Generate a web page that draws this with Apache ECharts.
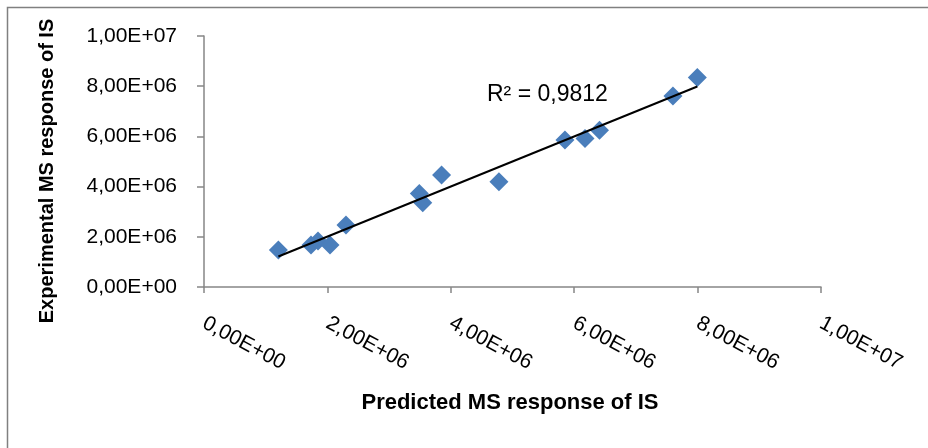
<!DOCTYPE html>
<html>
<head>
<meta charset="utf-8">
<script src="https://cdn.jsdelivr.net/npm/echarts@6/dist/echarts.min.js"></script>
<style>
  html, body { margin: 0; padding: 0; background: #fff; }
  #chart { width: 928px; height: 448px; }
</style>
</head>
<body>
<div id="chart"></div>
<script>
// Predicted vs. experimental MS response of the internal standard
var predicted = [1.205e6, 1.734e6, 1.848e6, 2.042e6, 2.301e6, 3.49e6, 3.545e6,
                 3.85e6, 4.78e6, 5.85e6, 6.175e6, 6.41e6, 7.6e6, 7.995e6];
var experimental = [1.47e6, 1.67e6, 1.83e6, 1.67e6, 2.47e6, 3.73e6, 3.36e6,
                    4.46e6, 4.195e6, 5.86e6, 5.92e6, 6.25e6, 7.61e6, 8.35e6];
var tickLabels = ['0,00E+00', '2,00E+06', '4,00E+06', '6,00E+06', '8,00E+06', '1,00E+07'];
var r2Text = 'R² = 0,9812';

var FONT = '"Liberation Sans", Arial, sans-serif';

// least-squares linear fit for the trend line
function linearFit(xs, ys) {
  var n = xs.length, sx = 0, sy = 0, sxx = 0, sxy = 0;
  for (var i = 0; i < n; i++) {
    sx += xs[i]; sy += ys[i]; sxx += xs[i] * xs[i]; sxy += xs[i] * ys[i];
  }
  var slope = (n * sxy - sx * sy) / (n * sxx - sx * sx);
  return { slope: slope, intercept: (sy - slope * sx) / n };
}
var fit = linearFit(predicted, experimental);
var xMin = Math.min.apply(null, predicted), xMax = Math.max.apply(null, predicted);
var trend = [[xMin, fit.intercept + fit.slope * xMin], [xMax, fit.intercept + fit.slope * xMax]];

var points = predicted.map(function (x, i) { return [x, experimental[i]]; });

function fmt(v) { return tickLabels[Math.round(v / 2e6)]; }

var chart = echarts.init(document.getElementById('chart'), null, { renderer: 'canvas' });
chart.setOption({
  animation: false,
  backgroundColor: '#fff',
  grid: { left: 204, right: 107, top: 36, bottom: 161, containLabel: false },
  xAxis: {
    type: 'value', min: 0, max: 1e7, interval: 2e6,
    splitLine: { show: false },
    axisLine: { lineStyle: { color: '#868686', width: 1.5 } },
    axisTick: { show: true, length: 6, lineStyle: { color: '#868686', width: 1.5 } },
    axisLabel: { rotate: -28, margin: 35, color: '#000', fontFamily: FONT, fontSize: 21, formatter: fmt }
  },
  yAxis: {
    type: 'value', min: 0, max: 1e7, interval: 2e6,
    splitLine: { show: false },
    axisLine: { show: true, lineStyle: { color: '#868686', width: 1.5 } },
    axisTick: { show: true, length: 7, lineStyle: { color: '#868686', width: 1.5 } },
    axisLabel: { margin: 27, color: '#000', fontFamily: FONT, fontSize: 21, formatter: fmt }
  },
  series: [
    {
      type: 'scatter', data: points, symbol: 'diamond', symbolSize: [19, 19],
      itemStyle: { color: '#4a7ebb', opacity: 1 }, z: 2
    },
    {
      type: 'line', data: trend, symbol: 'none', silent: true,
      lineStyle: { color: '#000', width: 2 }, z: 3
    }
  ],
  graphic: [
    { type: 'polyline', shape: { points: [[7.5, 448], [7.5, 7.5], [928, 7.5]] },
      style: { stroke: '#808080', lineWidth: 1.5, fill: null }, silent: true },
    { type: 'text', left: 487, top: 83,
      style: { text: r2Text, fill: '#000', font: '23px ' + FONT } },
    { type: 'text', x: 510, y: 403,
      style: { text: 'Predicted MS response of IS', fill: '#000', font: 'bold 22px ' + FONT,
               align: 'center', verticalAlign: 'middle' } },
    { type: 'text', x: 47, y: 171, rotation: Math.PI / 2,
      style: { text: 'Experimental MS response of IS', fill: '#000', font: 'bold 20px ' + FONT,
               align: 'center', verticalAlign: 'middle' } }
  ]
});
</script>
</body>
</html>
